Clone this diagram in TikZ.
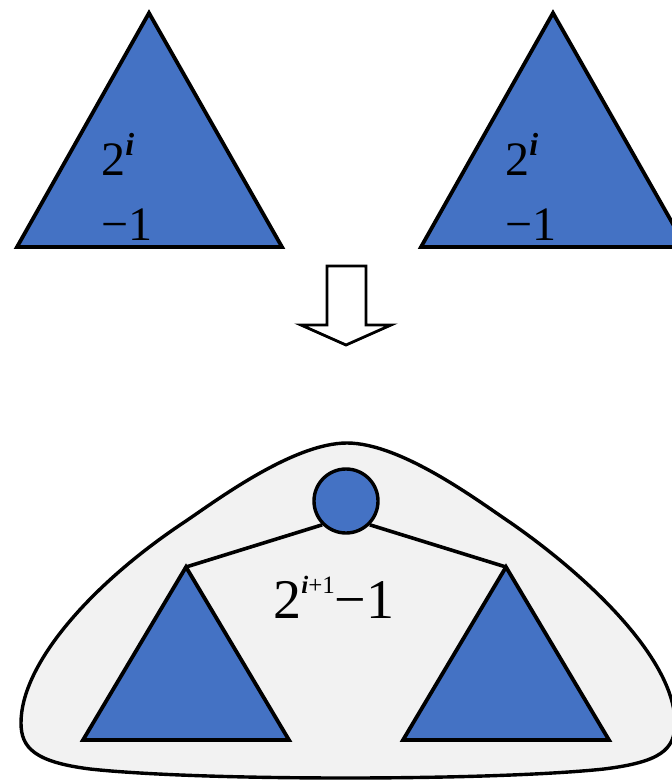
\documentclass[tikz,border=0pt]{standalone}
\usepackage{fontspec}
\setmainfont{Liberation Serif}
\definecolor{treeblue}{HTML}{4472C4}
\definecolor{bloblgray}{HTML}{F2F2F2}
\newcommand\supx[3]{\raisebox{#2}{\fontsize{#1}{#1}\selectfont#3}}
\newcommand\ii{\textbf{\textit{i}}}

\begin{document}
\begin{tikzpicture}[x=0.5pt,y=-0.5pt,
  tri/.style={fill=treeblue,draw=black,line width=1.9pt,line join=miter},
  edge/.style={draw=black,line width=1.8pt},
  lbl/.style={font=\fontsize{24}{28}\selectfont,inner sep=0pt,anchor=base west}]
  \path[use as bounding box,clip](0,0)rectangle(672,782);
  \draw[tri](149,13)--(282,247)--(17,247)--cycle;
  \draw[tri](553,13)--(686,247)--(421,247)--cycle;
  \node[lbl](lpow) at (101,175){2\supx{16}{10pt}{\ii}};
  \node[lbl](lone) at (101,240){−1};
  \node[lbl](rpow) at (505,175){2\supx{16}{10pt}{\ii}};
  \node[lbl](rone) at (505,240){−1};
  \draw[fill=white,line width=1.4pt,line join=miter](327,266)--(366,266)--(366,325)--(391,325)--(346,345)--(301,325)--(327,325)--cycle;
  \filldraw[fill=bloblgray,line width=1.7pt](347,443)
    .. controls (292,443) and (213,503) .. (183,523)
    .. controls (93,583) and (21,663) .. (21,723)
    .. controls (21,748) and (35,762) .. (90,769)
    .. controls (200,781) and (490,781) .. (604,769)
    .. controls (660,762) and (675,750) .. (675,723)
    .. controls (675,663) and (597,583) .. (511,523)
    .. controls (481,503) and (402,443) .. (347,443) -- cycle;
  \node[circle,draw,fill=treeblue,line width=1.7pt,minimum size=32pt,inner sep=0pt](root) at (346,501){};
  \coordinate(lapex) at (186,567);
  \coordinate(rapex) at (506,567);
  \draw[edge](root.south west)--(lapex);
  \draw[edge](root.south east)--(rapex);
  \draw[tri](lapex)--++(103,173)--++(-206,0)--cycle;
  \draw[tri](rapex)--++(103,173)--++(-206,0)--cycle;
  \node[lbl,font=\fontsize{28}{32}\selectfont](total) at (273,618){2\supx{12.5}{12.5pt}{\ii+1}−1};
\end{tikzpicture}
\end{document}
